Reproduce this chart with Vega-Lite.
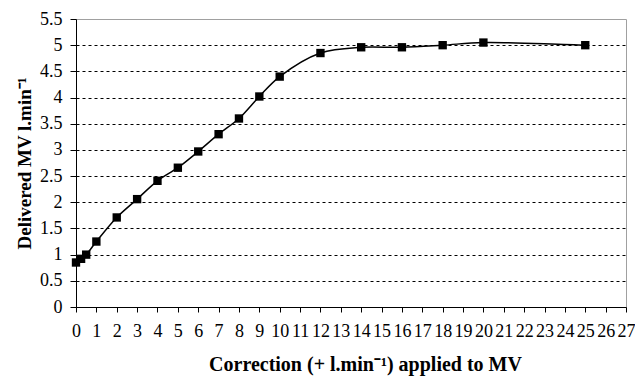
{
  "$schema": "https://vega.github.io/schema/vega-lite/v6.json",
  "autosize": {"type": "none"},
  "width": 550,
  "height": 288,
  "padding": {"left": 76, "top": 19, "right": 9, "bottom": 69},
  "background": "white",
  "config": {
    "view": {"stroke": "#a0a0a0", "strokeWidth": 1},
    "font": "'Liberation Serif', 'Times New Roman', Times, serif"
  },
  "data": {
    "values": [
      {"x": 0, "y": 0.85},
      {"x": 0.25, "y": 0.92},
      {"x": 0.5, "y": 1.0},
      {"x": 1, "y": 1.25},
      {"x": 2, "y": 1.71},
      {"x": 3, "y": 2.06},
      {"x": 4, "y": 2.41},
      {"x": 5, "y": 2.66},
      {"x": 6, "y": 2.97},
      {"x": 7, "y": 3.3},
      {"x": 8, "y": 3.6},
      {"x": 9, "y": 4.02},
      {"x": 10, "y": 4.4},
      {"x": 12, "y": 4.85},
      {"x": 14, "y": 4.96},
      {"x": 16, "y": 4.96},
      {"x": 18, "y": 5.0},
      {"x": 20, "y": 5.05},
      {"x": 25, "y": 5.0}
    ]
  },
  "encoding": {
    "x": {
      "field": "x",
      "type": "quantitative",
      "scale": {"domain": [0, 27], "nice": false, "zero": false},
      "axis": {
        "title": "Correction (+ l.min⁻¹) applied to MV",
        "values": [0,1,2,3,4,5,6,7,8,9,10,11,12,13,14,15,16,17,18,19,20,21,22,23,24,25,26,27],
        "format": "d",
        "grid": false,
        "domainColor": "black",
        "tickColor": "black",
        "tickSize": 5,
        "labelFont": "'Liberation Serif', 'Times New Roman', Times, serif",
        "labelFontSize": 18,
        "labelColor": "black",
        "labelPadding": 10,
        "labelFlush": false,
        "labelOverlap": false,
        "titleFont": "'Liberation Serif', 'Times New Roman', Times, serif",
        "titleFontSize": 20,
        "titleFontWeight": "bold",
        "titleColor": "black",
        "titlePadding": 14,
        "titleX": 289
      }
    },
    "y": {
      "field": "y",
      "type": "quantitative",
      "scale": {"domain": [0, 5.5], "nice": false},
      "axis": {
        "title": "Delivered MV l.min⁻¹",
        "values": [0,0.5,1,1.5,2,2.5,3,3.5,4,4.5,5,5.5],
        "format": ".1~f",
        "grid": true,
        "gridColor": "black",
        "gridDash": [3, 3],
        "gridWidth": 1,
        "gridOpacity": {"condition": {"test": "datum.value == 5.5 || datum.value == 0", "value": 0}, "value": 1},
        "domainColor": "black",
        "tickColor": "black",
        "tickSize": 6,
        "labelFont": "'Liberation Serif', 'Times New Roman', Times, serif",
        "labelFontSize": 18,
        "labelColor": "black",
        "labelPadding": 8,
        "titleFont": "'Liberation Serif', 'Times New Roman', Times, serif",
        "titleFontSize": 19,
        "titleFontWeight": "bold",
        "titleColor": "black",
        "titlePadding": 5
      }
    }
  },
  "layer": [
    {
      "mark": {"type": "line", "interpolate": "catmull-rom", "color": "black", "strokeWidth": 1.5}
    },
    {
      "mark": {"type": "square", "color": "black", "opacity": 1, "filled": true, "size": 70}
    }
  ]
}
